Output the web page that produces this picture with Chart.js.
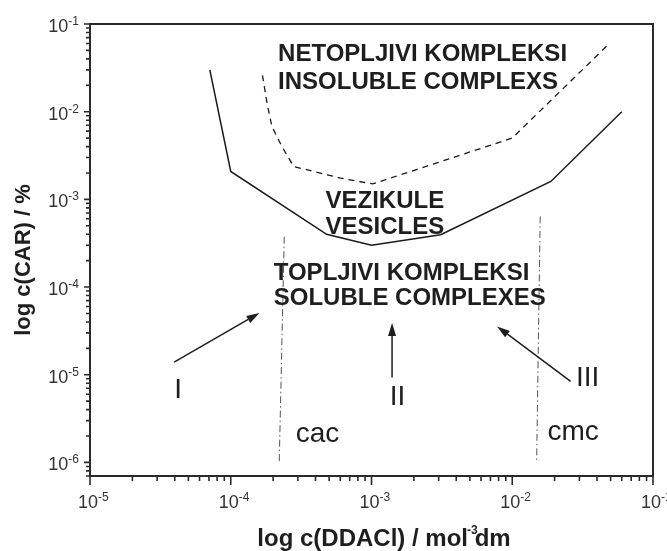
<!DOCTYPE html>
<html><head><meta charset="utf-8">
<script src="https://cdn.jsdelivr.net/npm/chart.js@4/dist/chart.umd.min.js"></script>
<style>html,body{margin:0;padding:0;background:#fff}canvas{display:block}</style>
</head><body>
<canvas id="c" width="667" height="551"></canvas>
<script>
// ---- data ----
const solidX = [7.1e-5, 1.0e-4, 4.8e-4, 1.0e-3, 3.1e-3, 1.88e-2, 6.0e-2];
const solidY = [3.0e-2, 2.08e-3, 4.0e-4, 3.0e-4, 3.95e-4, 1.6e-3, 1.0e-2];
const dashX = [1.68e-4, 1.81e-4, 1.96e-4, 2.31e-4, 2.8e-4, 6.0e-4, 1.02e-3, 1.0e-2, 4.9e-2];
const dashY = [2.6e-2, 1.25e-2, 6.8e-3, 4.0e-3, 2.37e-3, 1.75e-3, 1.5e-3, 5.0e-3, 6.0e-2];
const cacX = [2.4e-4, 2.21e-4];
const cacY = [3.75e-4, 1.0e-6];
const cmcX = [1.58e-2, 1.49e-2];
const cmcY = [6.4e-4, 1.0e-6];

const xTickValues = [1e-5, 1e-4, 1e-3, 1e-2, 1e-1];
const xTickExps = ['-5', '-4', '-3', '-2', '-1'];
const yTickValues = [1e-6, 1e-5, 1e-4, 1e-3, 1e-2, 1e-1];
const yTickExps = ['-6', '-5', '-4', '-3', '-2', '-1'];

const regionTexts = ['NETOPLJIVI KOMPLEKSI', 'INSOLUBLE COMPLEXS', 'VEZIKULE', 'VESICLES', 'TOPLJIVI KOMPLEKSI', 'SOLUBLE COMPLEXES'];
const regionX = [2.17e-4, 2.17e-4, 4.71e-4, 4.71e-4, 2.02e-4, 2.02e-4];
const regionY = [4.73e-2, 2.30e-2, 9.9e-4, 5.0e-4, 1.52e-4, 7.87e-5];

const markTexts = ['I', 'II', 'III', 'cac', 'cmc'];
const markX = [4.23e-5, 1.53e-3, 3.43e-2, 4.13e-4, 2.71e-2];
const markY = [7.1e-6, 5.9e-6, 9.8e-6, 2.03e-6, 2.14e-6];

const arrowFromX = [3.96e-5, 1.4e-3, 2.6e-2];
const arrowFromY = [1.39e-5, 9.3e-6, 8.4e-6];
const arrowToX = [1.6e-4, 1.4e-3, 7.8e-3];
const arrowToY = [5.07e-5, 3.9e-5, 3.56e-5];

const xTitle = 'log c(DDACl) / mol dm';
const xTitleSup = '-3';
const yTitle = 'log c(CAR) / %';

// ---- helpers ----
const pts = (xs, ys) => xs.map((v, i) => ({x: v, y: ys[i]}));
const FONT = '"Liberation Sans", Arial, Helvetica, sans-serif';
const INK = '#1e1e1e';

const deco = {
  id: 'deco',
  afterDatasetsDraw(chart) {
    const {ctx, chartArea: a, scales: {x: sx, y: sy}} = chart;
    ctx.save();
    // frame
    ctx.strokeStyle = '#2a2a2a';
    ctx.lineWidth = 2;
    ctx.strokeRect(a.left, a.top, a.right - a.left, a.bottom - a.top);

    // ticks
    ctx.lineWidth = 1.6;
    ctx.beginPath();
    for (let e = -5; e <= -1; e++) {
      const px = sx.getPixelForValue(Math.pow(10, e));
      ctx.moveTo(px, a.bottom); ctx.lineTo(px, a.bottom + 9);
      if (e < -1) for (let k = 2; k <= 9; k++) {
        const q = sx.getPixelForValue(k * Math.pow(10, e));
        ctx.moveTo(q, a.bottom); ctx.lineTo(q, a.bottom + 5);
      }
    }
    for (let e = -7; e <= -1; e++) {
      const p = sy.getPixelForValue(Math.pow(10, e));
      if (e >= -6) { ctx.moveTo(a.left, p); ctx.lineTo(a.left - 6, p); }
      if (e < -1) for (let k = 2; k <= 9; k++) {
        const v = k * Math.pow(10, e);
        if (v < sy.min || v > sy.max) continue;
        const q = sy.getPixelForValue(v);
        ctx.moveTo(a.left, q); ctx.lineTo(a.left - 4, q);
      }
    }
    ctx.stroke();

    // tick labels
    ctx.fillStyle = '#333';
    ctx.textBaseline = 'alphabetic';
    xTickValues.forEach((v, i) => {
      const px = sx.getPixelForValue(v);
      ctx.font = '18px ' + FONT;
      const w = ctx.measureText('10').width;
      const x0 = px - w / 2 - 2;
      ctx.textAlign = 'left';
      ctx.fillText('10', x0, a.bottom + 32);
      ctx.font = '12px ' + FONT;
      ctx.fillText(xTickExps[i], x0 + w, a.bottom + 25);
    });
    yTickValues.forEach((v, i) => {
      const py = sy.getPixelForValue(v);
      ctx.font = '12px ' + FONT;
      const ws = ctx.measureText(yTickExps[i]).width;
      const right = a.left - 11;
      ctx.textAlign = 'left';
      ctx.fillText(yTickExps[i], right - ws, py + 1);
      ctx.font = '18px ' + FONT;
      ctx.textAlign = 'right';
      ctx.fillText('10', right - ws, py + 8);
    });

    // region labels
    ctx.fillStyle = INK;
    ctx.font = 'bold 24px ' + FONT;
    ctx.textAlign = 'left';
    regionTexts.forEach((t, i) => {
      ctx.fillText(t, sx.getPixelForValue(regionX[i]), sy.getPixelForValue(regionY[i]) + 8.6);
    });
    // marks
    ctx.font = '28px ' + FONT;
    ctx.textAlign = 'center';
    markTexts.forEach((t, i) => {
      const big = t.startsWith('I');
      ctx.fillText(t, sx.getPixelForValue(markX[i]), sy.getPixelForValue(markY[i]) + (big ? 10 : 7));
    });

    // arrows
    ctx.strokeStyle = INK; ctx.fillStyle = INK; ctx.lineWidth = 1.5;
    arrowFromX.forEach((_, i) => {
      const x1 = sx.getPixelForValue(arrowFromX[i]), y1 = sy.getPixelForValue(arrowFromY[i]);
      const x2 = sx.getPixelForValue(arrowToX[i]), y2 = sy.getPixelForValue(arrowToY[i]);
      const ang = Math.atan2(y2 - y1, x2 - x1);
      const L = 13, W = 4;
      const bx = x2 - L * Math.cos(ang), by = y2 - L * Math.sin(ang);
      ctx.beginPath(); ctx.moveTo(x1, y1); ctx.lineTo(bx, by); ctx.stroke();
      ctx.beginPath();
      ctx.moveTo(x2, y2);
      ctx.lineTo(bx + W * Math.sin(ang), by - W * Math.cos(ang));
      ctx.lineTo(bx - W * Math.sin(ang), by + W * Math.cos(ang));
      ctx.closePath(); ctx.fill();
    });

    // axis titles
    ctx.fillStyle = INK;
    ctx.font = 'bold 24px ' + FONT;
    ctx.textAlign = 'left';
    const tw = ctx.measureText(xTitle).width;
    const tx = 384 - tw / 2;
    ctx.fillText(xTitle, tx, 546);
    const wd = ctx.measureText(xTitle.slice(0, -2)).width;
    ctx.font = 'bold 12px ' + FONT;
    const wsup = ctx.measureText(xTitleSup).width;
    ctx.fillText(xTitleSup, tx + wd - wsup + 3, 534);

    ctx.save();
    ctx.translate(30, 260);
    ctx.rotate(-Math.PI / 2);
    ctx.font = 'bold 22px ' + FONT;
    ctx.textAlign = 'center';
    ctx.fillText(yTitle, 0, 0);
    ctx.restore();

    ctx.restore();
  }
};

new Chart(document.getElementById('c'), {
  type: 'scatter',
  data: {
    datasets: [
      {data: pts(solidX, solidY), showLine: true, borderColor: '#1a1a1a', borderWidth: 1.5, pointRadius: 0},
      {data: pts(dashX, dashY), showLine: true, borderColor: '#1a1a1a', borderWidth: 1.3, borderDash: [6, 5], pointRadius: 0},
      {data: pts(cacX, cacY), showLine: true, borderColor: '#555', borderWidth: 1, borderDash: [7, 3, 1.5, 3], pointRadius: 0},
      {data: pts(cmcX, cmcY), showLine: true, borderColor: '#555', borderWidth: 1, borderDash: [7, 3, 1.5, 3], pointRadius: 0}
    ]
  },
  options: {
    responsive: false,
    animation: false,
    devicePixelRatio: 1,
    layout: {padding: {left: 0, right: 14, top: 24, bottom: 0}},
    plugins: {legend: {display: false}, tooltip: {enabled: false}},
    scales: {
      x: {type: 'logarithmic', min: 1e-5, max: 1e-1,
          grid: {display: false}, border: {display: false}, ticks: {display: false},
          afterFit(s) { s.height = 75; }},
      y: {type: 'logarithmic', min: 7e-7, max: 1e-1,
          grid: {display: false}, border: {display: false}, ticks: {display: false},
          afterFit(s) { s.width = 90; }}
    }
  },
  plugins: [deco]
});
</script>
</body></html>
